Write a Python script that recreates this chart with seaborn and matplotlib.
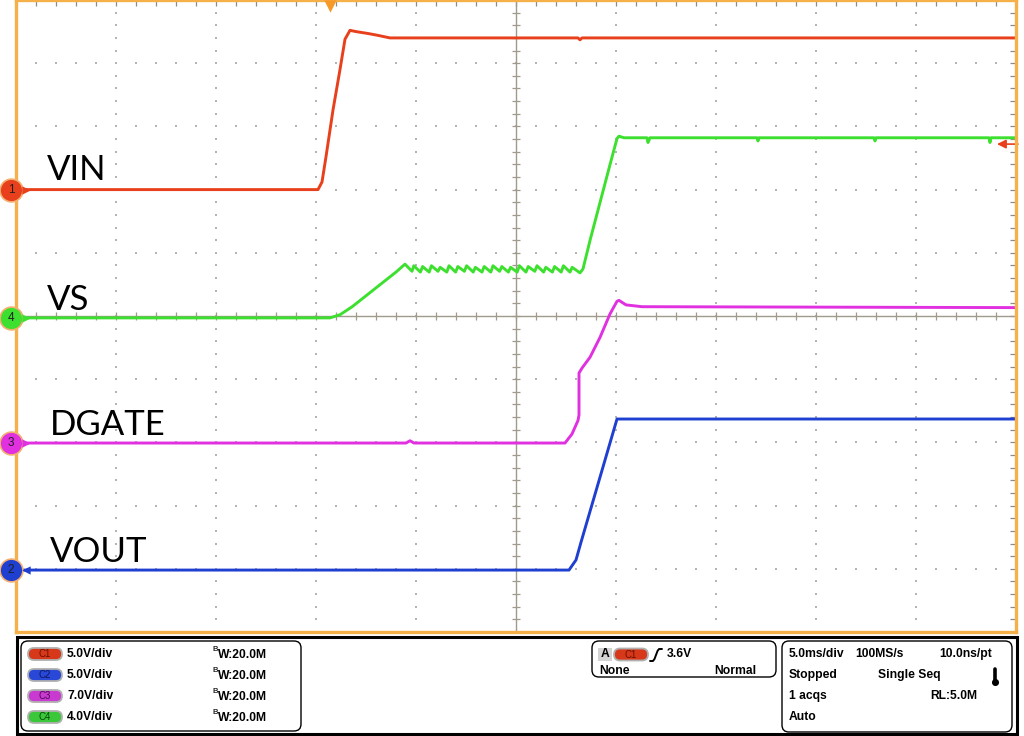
import numpy as np
import pandas as pd
import seaborn as sns
import matplotlib.pyplot as plt
from matplotlib.patches import FancyBboxPatch, Rectangle
from matplotlib.ticker import MultipleLocator

# --- scope setup: 5 ms/div, 10 x 10 divisions ---
ms_per_div = 5.0
ch_labels = ["VIN", "VOUT", "DGATE", "VS"]
ch_numbers = [1, 2, 3, 4]
volts_per_div = [5.0, 5.0, 7.0, 4.0]
ground_div = [7.0, 0.98, 2.99, 4.97]
ch_colors = ["#e8401c", "#1f3fd0", "#e030e0", "#3ee030"]
trigger_time = 15.7      # ms
trigger_level = 3.6      # V on C1

# --- traces (time in ms, level in volts) ---
vin_t = [0.0, 15.1, 15.3, 15.5, 15.85, 16.2, 16.45, 16.7, 17.0, 17.6, 18.1, 18.7,
         28.1, 28.2, 28.3, 50.0]
vin_v = [0.0, 0.0, 0.6, 2.6, 6.3, 9.5, 11.9, 12.6, 12.5, 12.35, 12.2, 12.0,
         12.0, 11.85, 12.0, 12.0]

vs_ramp_t = [0.0, 15.7, 16.2, 16.8, 17.5, 18.3, 19.0, 19.45]
vs_ramp_v = [0.0, 0.0, 0.2, 0.7, 1.4, 2.2, 2.9, 3.4]
vs_trough_t = [19.8, 20.22, 20.66, 21.1, 21.54, 21.98, 22.42, 22.86, 23.3, 23.74,
               24.18, 24.62, 25.06, 25.5, 25.94, 26.38, 26.82, 27.26, 27.7]
vs_trough_v = [2.95, 2.9, 2.9, 2.95, 2.9, 2.9, 2.95, 2.9, 2.9, 2.9,
               2.95, 2.9, 2.9, 2.9, 2.95, 2.9, 2.9, 2.9, 2.9]
vs_peak_t = [19.89, 20.33, 20.77, 21.21, 21.65, 22.09, 22.53, 22.97, 23.41, 23.85,
             24.29, 24.73, 25.17, 25.61, 26.05, 26.49, 26.93, 27.37, 27.81]
vs_peak_v = [3.3, 3.25, 3.3, 3.2, 3.3, 3.25, 3.3, 3.2, 3.25, 3.3,
             3.25, 3.2, 3.3, 3.25, 3.3, 3.2, 3.25, 3.3, 3.2]
vs_rise_t = [28.2, 28.35, 28.7, 29.2, 29.7, 30.05, 30.15, 30.4, 31.55, 31.6, 31.7,
             37.05, 37.1, 37.15, 42.9, 42.95, 43.0, 48.65, 48.7, 48.75, 50.0]
vs_rise_v = [2.85, 3.1, 4.9, 7.3, 9.7, 11.35, 11.5, 11.4, 11.4, 11.1, 11.4,
             11.4, 11.2, 11.4, 11.4, 11.2, 11.4, 11.4, 11.1, 11.4, 11.4]

dgate_t = [0.0, 19.5, 19.7, 19.9, 27.45, 27.8, 28.1, 28.15, 28.15, 28.3, 28.7, 29.2,
           29.7, 30.05, 30.15, 30.5, 31.3, 50.0]
dgate_v = [0.0, 0.0, 0.25, 0.0, 0.0, 1.0, 2.5, 3.1, 7.75, 8.3, 9.5, 11.7,
           14.3, 15.7, 15.8, 15.3, 15.1, 15.0]

vout_t = [0.0, 27.65, 28.0, 28.25, 30.05, 30.2, 50.0]
vout_v = [0.0, 0.0, 0.8, 2.2, 11.95, 11.95, 11.95]

vs_t = list(vs_ramp_t)
vs_v = list(vs_ramp_v)
for tt, tv, pt, pv in zip(vs_trough_t, vs_trough_v, vs_peak_t, vs_peak_v):
    vs_t += [tt, pt]
    vs_v += [tv, pv]
vs_t += vs_rise_t
vs_v += vs_rise_v

traces = {"VIN": (vin_t, vin_v), "VOUT": (vout_t, vout_v),
          "DGATE": (dgate_t, dgate_v), "VS": (vs_t, vs_v)}

sns.set_style("white")
plt.rcParams["font.family"] = ["Liberation Sans", "DejaVu Sans"]

fig = plt.figure(figsize=(10.24, 7.36), dpi=100)
ax = fig.add_axes([16 / 1024, 104 / 736, 1000 / 1024, 632 / 736])
ax.set_xlim(0, 10 * ms_per_div)
ax.set_ylim(0, 10)

# graticule: dotted grid, center cross with ticks, ticks on the frame
grid_col = "#b4b4b4"
for gx in [5, 10, 15, 20, 30, 35, 40, 45]:
    ys = np.arange(0, 10.01, 0.2)
    ax.scatter(np.full_like(ys, gx), ys, s=1.3, color=grid_col, marker="s", lw=0, zorder=1)
for gy in [1, 2, 3, 4, 6, 7, 8, 9]:
    xs = np.arange(0, 50.01, 1.0)
    ax.scatter(xs, np.full_like(xs, gy), s=1.3, color=grid_col, marker="s", lw=0, zorder=1)
axis_col = "#a09a8c"
ax.axhline(5, color=axis_col, lw=1.0, zorder=1)
ax.axvline(25, color=axis_col, lw=1.0, zorder=1)
xs = np.arange(0, 50.01, 1.0)
ax.scatter(xs, np.full_like(xs, 5), marker="|", s=30, color=axis_col, lw=0.9, zorder=1)
ys = np.arange(0, 10.01, 0.2)
ax.scatter(np.full_like(ys, 25), ys, marker="_", s=30, color=axis_col, lw=0.9, zorder=1)

ax.xaxis.set_major_locator(MultipleLocator(1.0))
ax.yaxis.set_major_locator(MultipleLocator(0.2))
ax.tick_params(which="both", direction="in", top=True, right=True, length=4.5,
               width=0.9, color="#8c8c8c", labelbottom=False, labelleft=False)
for sp in ax.spines.values():
    sp.set_color("#f5b04a")
    sp.set_linewidth(2.4)
    sp.set_zorder(4)

# channel traces
for name, num, vdiv, gnd, col in zip(ch_labels, ch_numbers, volts_per_div, ground_div, ch_colors):
    t, v = traces[name]
    df = pd.DataFrame({"t": t, "div": gnd + np.asarray(v) / vdiv})
    sns.lineplot(data=df, x="t", y="div", ax=ax, color=col, lw=2.1,
                 estimator=None, sort=False, legend=False, zorder=3)
ax.set_xlabel("")
ax.set_ylabel("")

# ground markers on the left edge
for name, num, gnd, col in zip(ch_labels, ch_numbers, ground_div, ch_colors):
    ax.scatter(-0.25, gnd, s=270, color=col, edgecolor="#f3b070", lw=1.2,
               clip_on=False, zorder=6)
    ax.text(-0.25, gnd, str(num), fontsize=8.5, ha="center", va="center",
            color="#202020", zorder=7, clip_on=False)
    ax.scatter(0.5, gnd, marker="<" if num == 2 else ">", s=36, color=col,
               lw=0, clip_on=False, zorder=6)

# channel names
name_pos = {"VIN": (1.55, 7.15), "VS": (1.55, 5.09), "DGATE": (1.7, 3.12), "VOUT": (1.7, 1.11)}
for name, (tx, ty) in name_pos.items():
    ax.text(tx, ty, name, fontsize=25, family="Lato", color="black",
            ha="left", va="baseline", zorder=5)

# trigger position and level markers
ax.scatter(trigger_time, 9.9, marker="v", s=80, color="#f59a28", lw=0,
           clip_on=False, zorder=8)
lvl = ground_div[0] + trigger_level / volts_per_div[0]
ax.annotate("", xy=(49.05, lvl), xytext=(50.1, lvl), annotation_clip=False,
            arrowprops=dict(arrowstyle="-|>", color="#e8401c", lw=1.2,
                            mutation_scale=13, shrinkA=0, shrinkB=0))

# --- readout panel (pixel coordinates) ---
pn = fig.add_axes([0, 0, 1, 104 / 736])
pn.set_xlim(0, 1024)
pn.set_ylim(736, 632)
pn.axis("off")
pn.add_patch(Rectangle((17, 637), 1000, 97, fill=False, ec="black", lw=2.2))
for bx, by, bw, bh in [(21, 641, 280, 90), (592, 641, 184, 36), (782, 641, 230, 91)]:
    pn.add_patch(FancyBboxPatch((bx, by), bw, bh, boxstyle="round,pad=0,rounding_size=7",
                                fc="white", ec="black", lw=1.0))


def pill(cx, cy, label, col, tcol):
    pn.add_patch(FancyBboxPatch((cx - 17, cy - 6), 34, 12,
                                boxstyle="round,pad=0,rounding_size=6",
                                fc=col, ec="#b0b0b0", lw=1.3))
    pn.text(cx, cy + 0.5, label, fontsize=7, ha="center", va="center", color=tcol)


txt = dict(fontsize=8.7, fontweight="bold", color="black", va="center")
row_y = [654, 675, 696, 717]
pill_info = [("C1", "#d8381a", "#6a1000"), ("C2", "#2a48d8", "#0a1860"),
             ("C3", "#c83ad0", "#500a58"), ("C4", "#3ac83a", "#0a4a0a")]
scales = ["5.0V/div", "5.0V/div", "7.0V/div", "4.0V/div"]
for ry, (lab, pc, tc), sc in zip(row_y, pill_info, scales):
    pill(45, ry, lab, pc, tc)
    pn.text(67, ry, sc, ha="left", **txt)
    pn.text(212.5, ry - 4, "B", fontsize=5.5, fontweight="bold", ha="left", va="center")
    pn.text(218, ry + 1, "W:20.0M", ha="left", **txt)

pn.add_patch(Rectangle((598, 648), 14, 13, fc="#d4d4d4", ec="none"))
pn.text(605, 654.5, "A", ha="center", **txt)
pill(631, 654.5, "C1", "#d8381a", "#6a1000")
pn.plot([650, 653, 654.5, 657.5, 659, 662], [661, 661, 659, 651, 649, 649],
        color="black", lw=1.4, solid_capstyle="round")
pn.text(667, 654, "3.6V", ha="left", **txt)
pn.text(599, 671, "None", ha="left", **txt)
pn.text(756, 671, "Normal", ha="right", **txt)

pn.text(789, 654, "5.0ms/div", ha="left", **txt)
pn.text(855, 654, "100MS/s", ha="left", **txt)
pn.text(992, 654, "10.0ns/pt", ha="right", **txt)
pn.text(789, 675, "Stopped", ha="left", **txt)
pn.text(878, 675, "Single Seq", ha="left", **txt)
pn.text(789, 696, "1 acqs", ha="left", **txt)
pn.text(977, 696, "RL:5.0M", ha="right", **txt)
pn.text(789, 717, "Auto", ha="left", **txt)
pn.plot([995, 995], [669, 681], color="black", lw=2.6, solid_capstyle="round")
pn.scatter([995], [682.5], s=26, color="black", lw=0)

fig.savefig("out.png", dpi=100, facecolor="white")
